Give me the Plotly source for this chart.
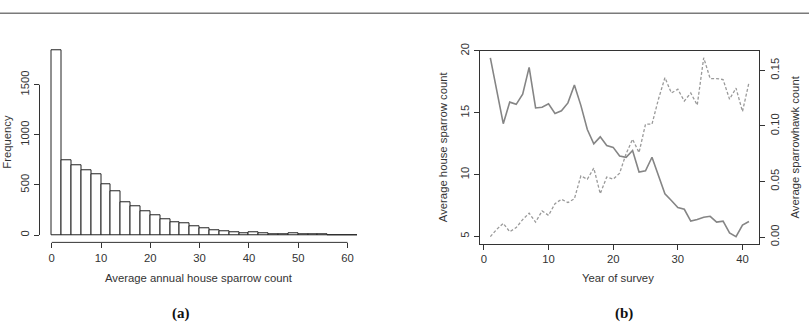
import plotly.graph_objects as go

W, H = 809, 322

# ---------------- data ----------------
hist_counts = [1840, 750, 697, 651, 610, 509, 435, 325, 290, 235, 193, 161, 129, 122, 83,
               68, 51, 42, 29, 16, 25, 16, 12, 9, 16, 6, 9, 3, 2, 2, 1]
bin_width = 2
hist_xticks = [0, 10, 20, 30, 40, 50, 60]
hist_yticks = [0, 500, 1000, 1500]

years = list(range(1, 42))
sparrow = [19.45, 16.9, 14.12, 15.86, 15.68, 16.5, 18.67, 15.39, 15.45, 15.73, 14.95, 15.16,
           15.8, 17.24, 15.6, 13.65, 12.48, 13.05, 12.35, 12.2, 11.5, 11.4, 11.95, 10.2, 10.3,
           11.4, 9.87, 8.44, 7.9, 7.34, 7.19, 6.23, 6.36, 6.54, 6.62, 6.15, 6.23, 5.27, 4.98,
           5.91, 6.2]
hawk = [0.0004, 0.007, 0.0123, 0.0048, 0.0085, 0.0157, 0.0215, 0.0134, 0.0235, 0.0195,
        0.030, 0.034, 0.031, 0.0344, 0.055, 0.052, 0.062, 0.039, 0.054, 0.052,
        0.0575, 0.075, 0.088, 0.076, 0.1016, 0.1016, 0.124, 0.1434, 0.1296, 0.133,
        0.1224, 0.1296, 0.1187, 0.1613, 0.1426, 0.1426, 0.1417, 0.124, 0.134, 0.113, 0.1389]
year_ticks = [0, 10, 20, 30, 40]
sparrow_ticks = [5, 10, 15, 20]
hawk_ticks = [0.0, 0.05, 0.10, 0.15]
hawk_ticktext = ["0.00", "0.05", "0.10", "0.15"]


def px(x):
    return x / W


def py(y):
    return 1 - y / H


def rpad(lo, hi, f=0.04):
    d = (hi - lo) * f
    return [lo - d, hi + d]


FONT = "Liberation Sans, Arial, sans-serif"
FS = 11.3
INK = "#333333"

edges_left = [i * bin_width for i in range(len(hist_counts))]
centers = [e + bin_width / 2 for e in edges_left]

fig = go.Figure()
fig.add_trace(go.Bar(x=centers, y=hist_counts, width=bin_width,
                     marker=dict(color="white", line=dict(color="#222222", width=1)),
                     xaxis="x", yaxis="y", showlegend=False))

fig.add_trace(go.Scatter(x=years, y=sparrow, mode="lines",
                         line=dict(color="#858585", width=1.6),
                         xaxis="x2", yaxis="y2", showlegend=False))
fig.add_trace(go.Scatter(x=years, y=hawk, mode="lines",
                         line=dict(color="#9a9a9a", width=1.3, dash="3px,2px"),
                         xaxis="x2", yaxis="y3", showlegend=False))

tickfont = dict(family=FONT, size=FS, color=INK)
common = dict(showgrid=False, zeroline=False, ticks="outside", ticklen=5,
              tickcolor=INK, tickwidth=1, tickfont=tickfont)

fig.update_layout(
    width=W, height=H, margin=dict(l=0, r=0, t=0, b=0),
    paper_bgcolor="white", plot_bgcolor="white", bargap=0,
    xaxis=dict(domain=[px(39.5), px(369.6)], range=rpad(0, len(hist_counts) * bin_width),
               tickvals=hist_xticks, showline=False, anchor="y", **common),
    yaxis=dict(domain=[py(241.9), py(36.4)], range=rpad(0, max(hist_counts)),
               tickvals=hist_yticks, showline=False, tickangle=-90, anchor="x", **common),
    xaxis2=dict(domain=[px(480), px(759.3)], range=rpad(min(years), max(years)),
                tickvals=year_ticks, showline=True, mirror=True, linecolor=INK, linewidth=1,
                anchor="y2", **common),
    yaxis2=dict(domain=[py(243.3), py(44)], range=rpad(min(sparrow), max(sparrow)),
                tickvals=sparrow_ticks, showline=True, mirror=True, linecolor=INK, linewidth=1,
                tickangle=-90, anchor="x2", **common),
    yaxis3=dict(range=rpad(min(hawk), max(hawk)), overlaying="y2", side="right",
                tickvals=hawk_ticks, ticktext=hawk_ticktext, showline=False,
                tickangle=-90, anchor="x2", **common),
)

# R-style axis lines spanning first..last tick for histogram
fig.add_shape(type="line", xref="x", yref="y domain", x0=hist_xticks[0], x1=hist_xticks[-1],
              y0=0, y1=0, line=dict(color=INK, width=1))
fig.add_shape(type="line", xref="x domain", yref="y", x0=0, x1=0,
              y0=hist_yticks[0], y1=hist_yticks[-1], line=dict(color=INK, width=1))

# top rule
fig.add_shape(type="line", xref="paper", yref="paper", x0=0, x1=1, y0=py(5.3), y1=py(5.3),
              line=dict(color="#7a7a7a", width=1.5))

lab = dict(family=FONT, size=FS, color=INK)
serif = dict(family="Liberation Serif, Times New Roman, serif", size=15, color="#111")
ann = [
    dict(text="Average annual house sparrow count", x=px(199), y=py(278.7), font=lab),
    dict(text="Frequency", x=px(7), y=py(138), font=lab, textangle=-90),
    dict(text="Year of survey", x=px(618.3), y=py(278.7), font=lab),
    dict(text="Average house sparrow count", x=px(443.3), y=py(143.3), font=lab, textangle=-90),
    dict(text="Average sparrowhawk count", x=px(795), y=py(144), font=lab, textangle=-90),
    dict(text="<b>(a)</b>", x=px(181), y=py(315), font=serif),
    dict(text="<b>(b)</b>", x=px(624), y=py(315), font=serif),
]
for a in ann:
    fig.add_annotation(xref="paper", yref="paper", showarrow=False,
                       xanchor="center", yanchor="middle", **a)

fig.write_html("out.html")
